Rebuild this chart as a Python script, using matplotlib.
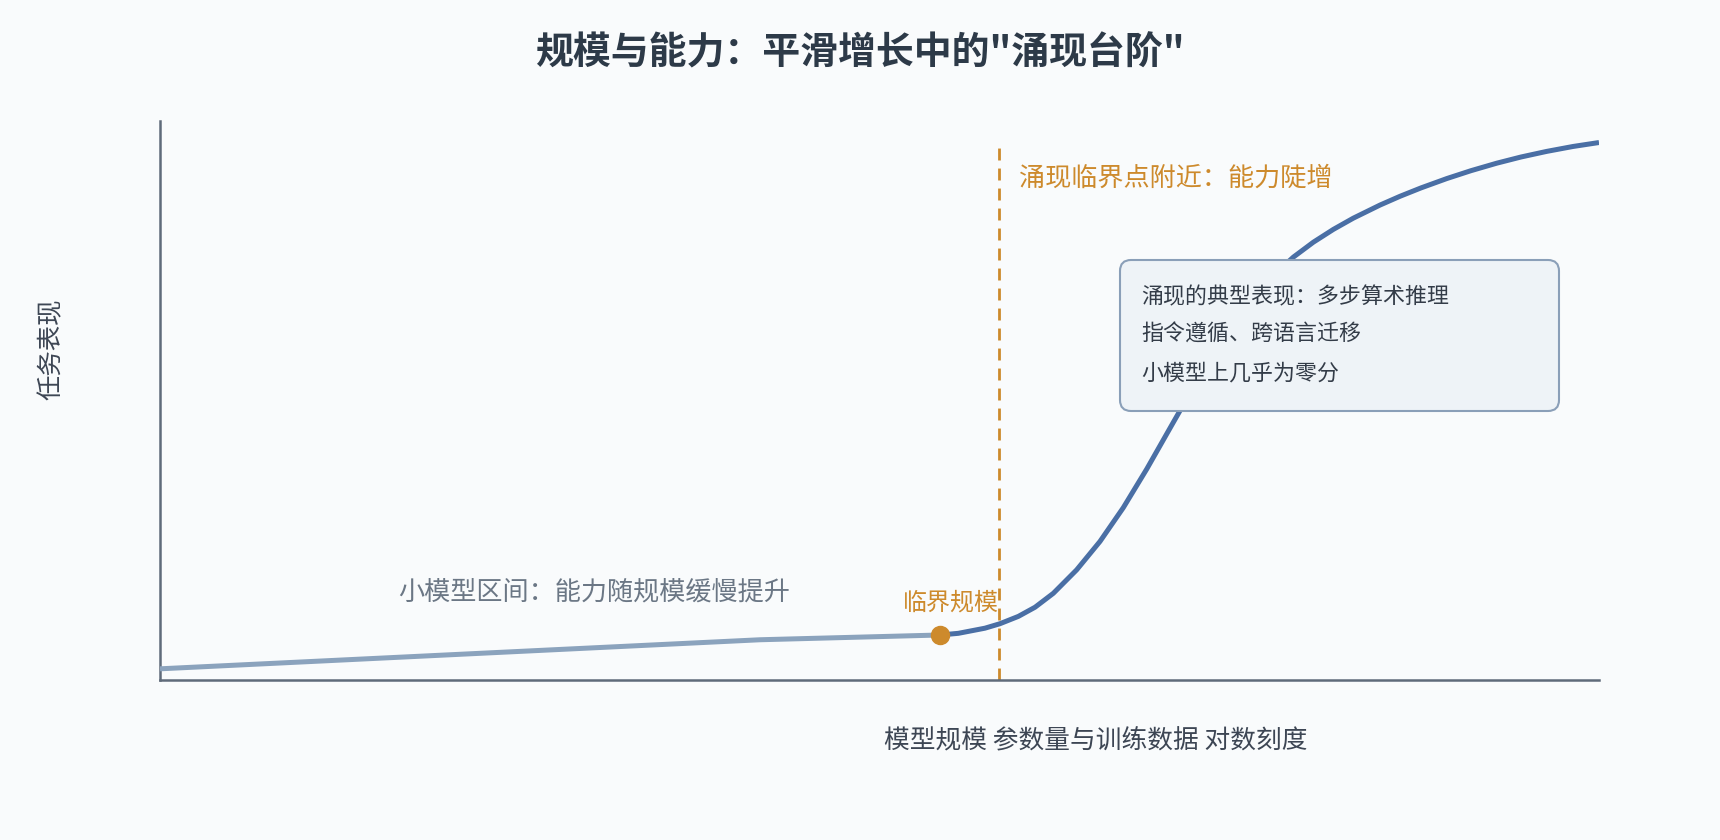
import matplotlib
matplotlib.use("Agg")
import matplotlib.pyplot as plt
from matplotlib.patches import FancyBboxPatch
from matplotlib.transforms import IdentityTransform

plt.rcParams['font.family'] = ['Noto Sans CJK SC', 'DejaVu Sans']

# x: position along log-scale model size (0-100), y: task performance (0-100)
small_x = [0, 41.7, 54.2]
small_y = [2.0, 7.2, 8.05]

emerge_x = [54.2, 55.48, 57.33, 58.37, 59.65, 60.81, 62.08, 63.70, 65.32, 66.94,
            68.57, 70.42, 72.27, 74.01, 75.75, 77.28, 78.76, 80.15, 81.54, 82.92,
            84.78, 86.17, 87.63, 89.42, 91.10, 92.89, 94.58, 96.36, 98.19, 100]
emerge_y = [8.05, 8.35, 9.27, 10.07, 11.38, 13.02, 15.51, 19.70, 24.78, 30.82,
            37.73, 46.10, 54.42, 61.48, 67.66, 72.15, 75.65, 78.32, 80.61, 82.61,
            84.96, 86.53, 88.03, 89.70, 91.11, 92.45, 93.56, 94.56, 95.44, 96.15]

threshold_x = 58.3
critical_x, critical_y = 54.2, 8.05

title = '规模与能力：平滑增长中的"涌现台阶"'
xlabel = '模型规模 参数量与训练数据 对数刻度'
ylabel = '任务表现'
small_note = '小模型区间：能力随规模缓慢提升'
critical_note = '临界规模'
emerge_note = '涌现临界点附近：能力陡增'
box_lines = ['涌现的典型表现：多步算术推理', '指令遵循、跨语言迁移', '小模型上几乎为零分']

bg = '#f9fbfc'
orange = '#cd8a2c'
dark_blue = '#4a6fa5'
light_blue = '#8ba3bd'
spine_c = '#5f6b7a'

fig = plt.figure(figsize=(17.2, 8.4), dpi=100, facecolor=bg)
ax = fig.add_axes([160/1720, 1 - 680/840, 1439/1720, 559/840])
ax.set_facecolor(bg)
ax.set_xlim(0, 100)
ax.set_ylim(0, 100)

for s in ['top', 'right']:
    ax.spines[s].set_visible(False)
for s in ['left', 'bottom']:
    ax.spines[s].set_color(spine_c)
    ax.spines[s].set_linewidth(1.8)
ax.set_xticks([])
ax.set_yticks([])

ax.plot(small_x, small_y, color=light_blue, lw=3.6, solid_capstyle='butt',
        solid_joinstyle='round', zorder=3)
ax.plot(emerge_x, emerge_y, color=dark_blue, lw=3.6, solid_capstyle='butt',
        solid_joinstyle='round', zorder=3)
ax.axvline(threshold_x, ymin=0, ymax=0.952, color=orange, lw=2, ls=(0, (4.3, 2.9)), zorder=2)
ax.plot([critical_x], [critical_y], 'o', color=orange, ms=13, zorder=4)

ax.text(threshold_x + 1.4, 89.7, emerge_note, color=orange, fontsize=18.8,
        ha='left', va='center')
ax.text(30.2, 15.8, small_note, color='#6b7785', fontsize=18.8, ha='center', va='center')
ax.text(55.0, 13.8, critical_note, color=orange, fontsize=17.3, ha='center', va='center')

# annotation box (pixel coordinates of the figure)
box = FancyBboxPatch((1120, 429), 439, 151, boxstyle='round,pad=0,rounding_size=11',
                     facecolor='#eef3f7', edgecolor='#8a9fb8', lw=1.5, zorder=5,
                     transform=IdentityTransform())
ax.add_patch(box)
for i, line in enumerate(box_lines):
    ax.text((1141 - 160) / 1439 * 100, (680 - 297 - 38 * i) / 559 * 100, line,
            color='#333c48', fontsize=15.8, ha='left', va='center', zorder=6)

fig.text(860/1720, 1 - 53/840, title, ha='center', va='center', fontsize=27.3,
         fontweight='bold', color='#2d3a48')
fig.text(1096/1720, 1 - 741/840, xlabel, ha='center', va='center', fontsize=18.5,
         color='#3d4654')
fig.text(52/1720, 1 - 349/840, ylabel, ha='center', va='center', fontsize=18.3,
         rotation=90, color='#3d4654')

fig.savefig('out.png', dpi=100, facecolor=bg)
